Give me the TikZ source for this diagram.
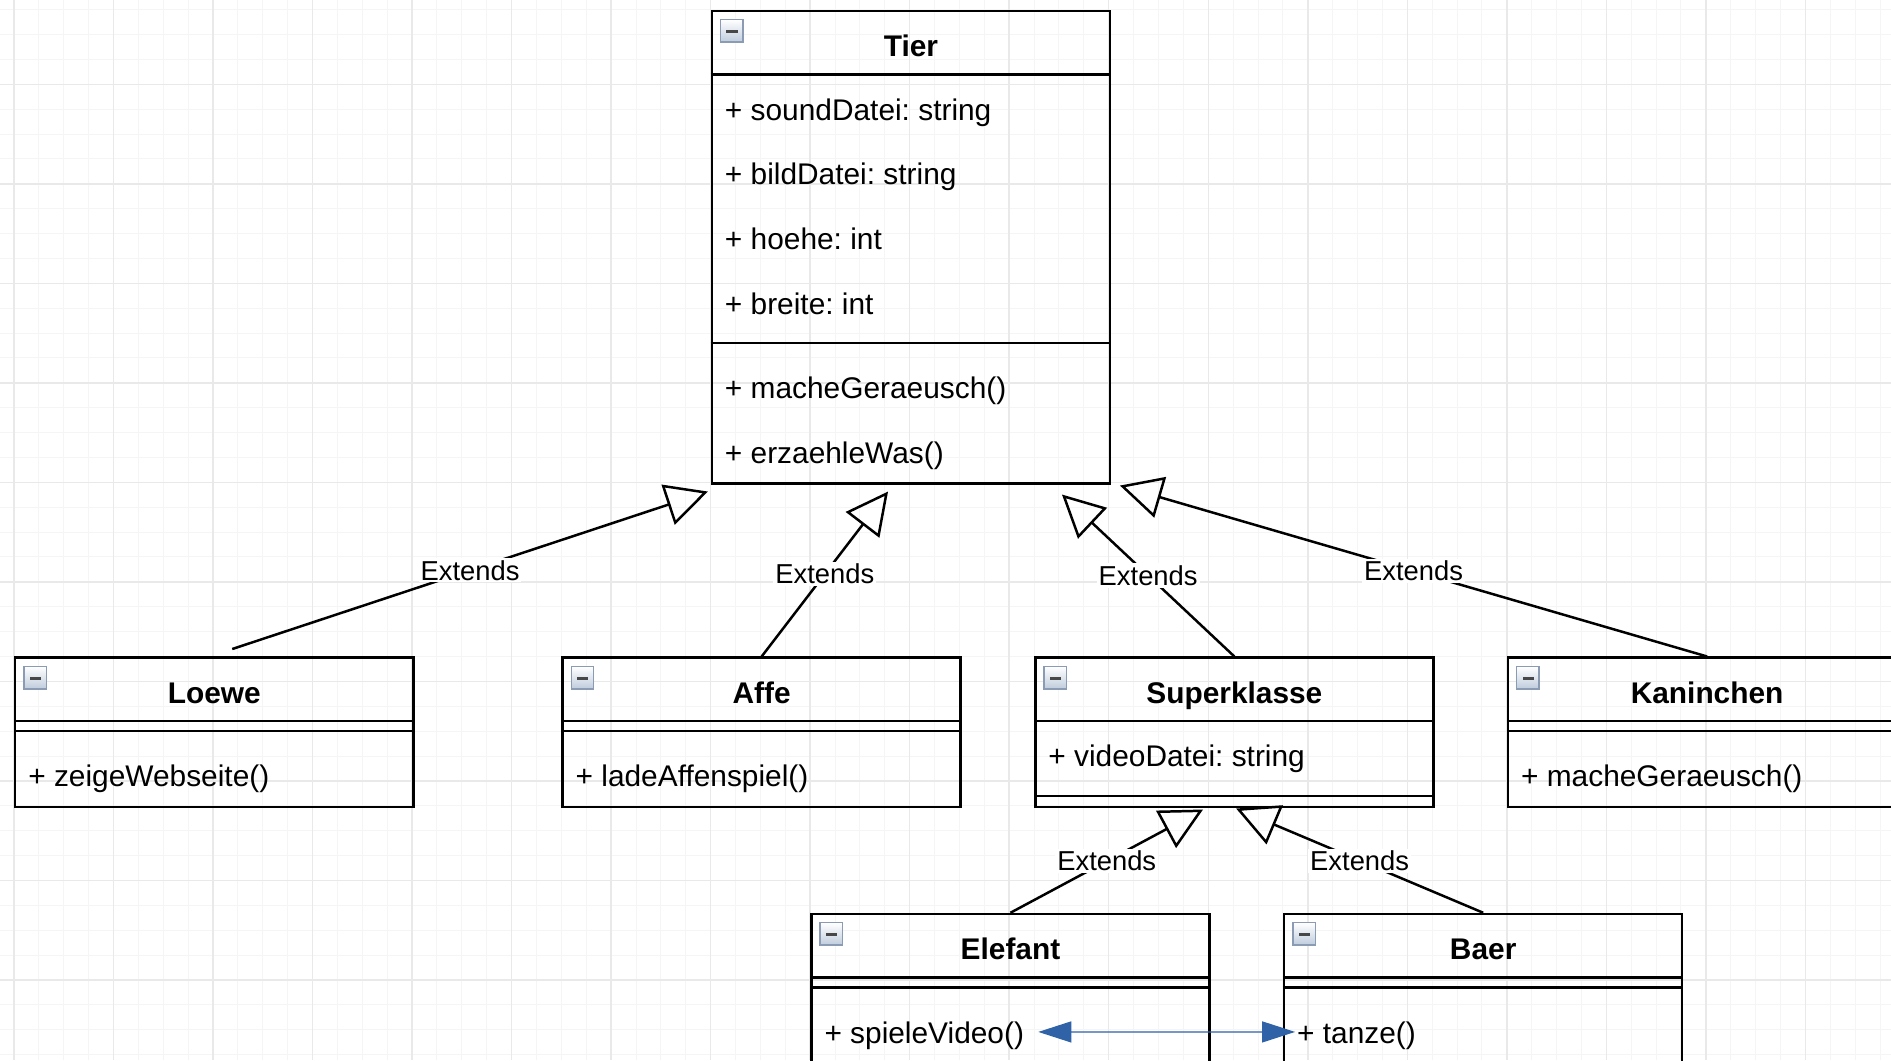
\documentclass[tikz,border=0pt]{standalone}
\usepackage{fontspec}
\setmainfont{Liberation Sans}
\usetikzlibrary{arrows.meta,calc}

\newcommand{\du}{1.244pt}% one diagram unit
\newcommand{\classrule}[2]{\draw[classline] ([yshift=-#2*\du]#1.north west) -- ([yshift=-#2*\du]#1.north east);}

\definecolor{gridminor}{HTML}{F5F5F5}
\definecolor{gridmajor}{HTML}{E9E9E9}
\definecolor{iconedge}{HTML}{8A9BB3}
\definecolor{iconfill}{HTML}{BFCCDD}
\definecolor{linkblue}{HTML}{2F62A6}

\tikzset{
  classbox/.style={draw, line width=\du, anchor=north west, inner sep=0pt, minimum width=160*\du},
  classline/.style={line width=\du},
  classname/.style={anchor=base, inner sep=0pt, font=\bfseries\fontsize{14.93pt}{18pt}\selectfont},
  member/.style={anchor=base west, inner sep=0pt, font=\fontsize{14.93pt}{18pt}\selectfont},
  extlabel/.style={fill=white, inner sep=1pt, font=\fontsize{13.68pt}{16pt}\selectfont},
  extends/.style={line width=\du, -{Triangle[open, length=21pt, width=21pt]}},
  link/.style={linkblue, line width=0.65pt, {Triangle[length=16.5pt, width=10.5pt]}-{Triangle[length=16.5pt, width=10.5pt]}},
  foldicon/.pic={
    \draw[iconedge, line width=0.7pt, top color=white, bottom color=iconfill] (0,0) rectangle (9,9);
    \fill[black!72] (2.3,4.2) rectangle (6.9,5.5);
  }
}

\begin{document}
\frenchspacing
\begin{tikzpicture}[x=\du, y=-\du]
  \useasboundingbox (-5.63,-3.86) rectangle (754.42,422.19);
  \fill[white] (-5.63,-3.86) rectangle (754.42,422.19);

  % grid
  \foreach \gx in {0,10,...,750} \draw[gridminor, line width=0.5pt] (\gx,-3.86) -- (\gx,422.19);
  \foreach \gy in {0,10,...,420} \draw[gridminor, line width=0.5pt] (-5.63,\gy) -- (754.42,\gy);
  \foreach \gx in {0,40,...,720} \draw[gridmajor, line width=0.75pt] (\gx,-3.86) -- (\gx,422.19);
  \foreach \gy in {30,70,...,390} \draw[gridmajor, line width=0.75pt] (-5.63,\gy) -- (754.42,\gy);

  % Tier
  \node[classbox, minimum height=190*\du] (tier) at (280,0) {};
  \classrule{tier}{26}
  \classrule{tier}{134}
  \pic at ($(tier.north west)+(4,4)$) {foldicon};
  \node[classname] (tier-name) at ($(tier.north)+(0,18.9)$) {Tier};
  \node[member] (tier-a1) at ($(tier.north west)+(5.6,44.4)$) {+ soundDatei: string};
  \node[member] (tier-a2) at ($(tier.north west)+(5.6,70.4)$) {+ bildDatei: string};
  \node[member] (tier-a3) at ($(tier.north west)+(5.6,96.4)$) {+ hoehe: int};
  \node[member] (tier-a4) at ($(tier.north west)+(5.6,122.4)$) {+ breite: int};
  \node[member] (tier-m1) at ($(tier.north west)+(5.6,156.4)$) {+ macheGeraeusch()};
  \node[member] (tier-m2) at ($(tier.north west)+(5.6,182.4)$) {+ erzaehleWas()};

  % Loewe
  \node[classbox, minimum height=60*\du] (loewe) at (0,260) {};
  \classrule{loewe}{26}
  \classrule{loewe}{30}
  \pic at ($(loewe.north west)+(4,4)$) {foldicon};
  \node[classname] (loewe-name) at ($(loewe.north)+(0,18.9)$) {Loewe};
  \node[member] (loewe-m1) at ($(loewe.north west)+(5.6,52.4)$) {+ zeigeWebseite()};

  % Affe
  \node[classbox, minimum height=60*\du] (affe) at (220,260) {};
  \classrule{affe}{26}
  \classrule{affe}{30}
  \pic at ($(affe.north west)+(4,4)$) {foldicon};
  \node[classname] (affe-name) at ($(affe.north)+(0,18.9)$) {Affe};
  \node[member] (affe-m1) at ($(affe.north west)+(5.6,52.4)$) {+ ladeAffenspiel()};

  % Superklasse
  \node[classbox, minimum height=60*\du] (superklasse) at (410,260) {};
  \classrule{superklasse}{26}
  \classrule{superklasse}{56}
  \pic at ($(superklasse.north west)+(4,4)$) {foldicon};
  \node[classname] (superklasse-name) at ($(superklasse.north)+(0,18.9)$) {Superklasse};
  \node[member] (superklasse-a1) at ($(superklasse.north west)+(5.6,44.4)$) {+ videoDatei: string};

  % Kaninchen
  \node[classbox, minimum height=60*\du] (kaninchen) at (600,260) {};
  \classrule{kaninchen}{26}
  \classrule{kaninchen}{30}
  \pic at ($(kaninchen.north west)+(4,4)$) {foldicon};
  \node[classname] (kaninchen-name) at ($(kaninchen.north)+(0,18.9)$) {Kaninchen};
  \node[member] (kaninchen-m1) at ($(kaninchen.north west)+(5.6,52.4)$) {+ macheGeraeusch()};

  % Elefant
  \node[classbox, minimum height=60*\du] (elefant) at (320,363) {};
  \classrule{elefant}{26}
  \classrule{elefant}{30}
  \pic at ($(elefant.north west)+(4,4)$) {foldicon};
  \node[classname] (elefant-name) at ($(elefant.north)+(0,18.9)$) {Elefant};
  \node[member] (elefant-m1) at ($(elefant.north west)+(5.6,52.4)$) {+ spieleVideo()};

  % Baer
  \node[classbox, minimum height=60*\du] (baer) at (510,363) {};
  \classrule{baer}{26}
  \classrule{baer}{30}
  \pic at ($(baer.north west)+(4,4)$) {foldicon};
  \node[classname] (baer-name) at ($(baer.north)+(0,18.9)$) {Baer};
  \node[member] (baer-m1) at ($(baer.north west)+(5.6,52.4)$) {+ tanze()};

  % inheritance
  \coordinate (loewe-out) at ($(loewe.north)+(7.2,-3)$);
  \coordinate (tier-in1) at ($(tier.south west)+(-1.1,2.7)$);
  \coordinate (tier-in2) at ($(tier.south west)+(71.3,2.7)$);
  \coordinate (tier-in3) at ($(tier.south west)+(141.2,3.9)$);
  \coordinate (tier-in4) at ($(tier.south west)+(164.5,0.3)$);
  \coordinate (super-in1) at ($(superklasse.south west)+(67.9,0.5)$);
  \coordinate (super-in2) at ($(superklasse.south west)+(81.2,0.1)$);

  \draw[extends] (loewe-out) -- node[extlabel] (ext-loewe) {Extends} (tier-in1);
  \draw[extends] (affe.north) -- node[extlabel] (ext-affe) {Extends} (tier-in2);
  \draw[extends] (superklasse.north) -- node[extlabel] (ext-super) {Extends} (tier-in3);
  \draw[extends] (kaninchen.north) -- node[extlabel] (ext-kaninchen) {Extends} (tier-in4);
  \draw[extends] (elefant.north) -- node[extlabel] (ext-elefant) {Extends} (super-in1);
  \draw[extends] (baer.north) -- node[extlabel] (ext-baer) {Extends} (super-in2);

  % video <-> tanze
  \draw[link] ([xshift=5.6*\du, yshift=1.4*\du]elefant-m1.east) -- ([xshift=-0.7*\du, yshift=1.4*\du]baer-m1.west);
\end{tikzpicture}
\end{document}
